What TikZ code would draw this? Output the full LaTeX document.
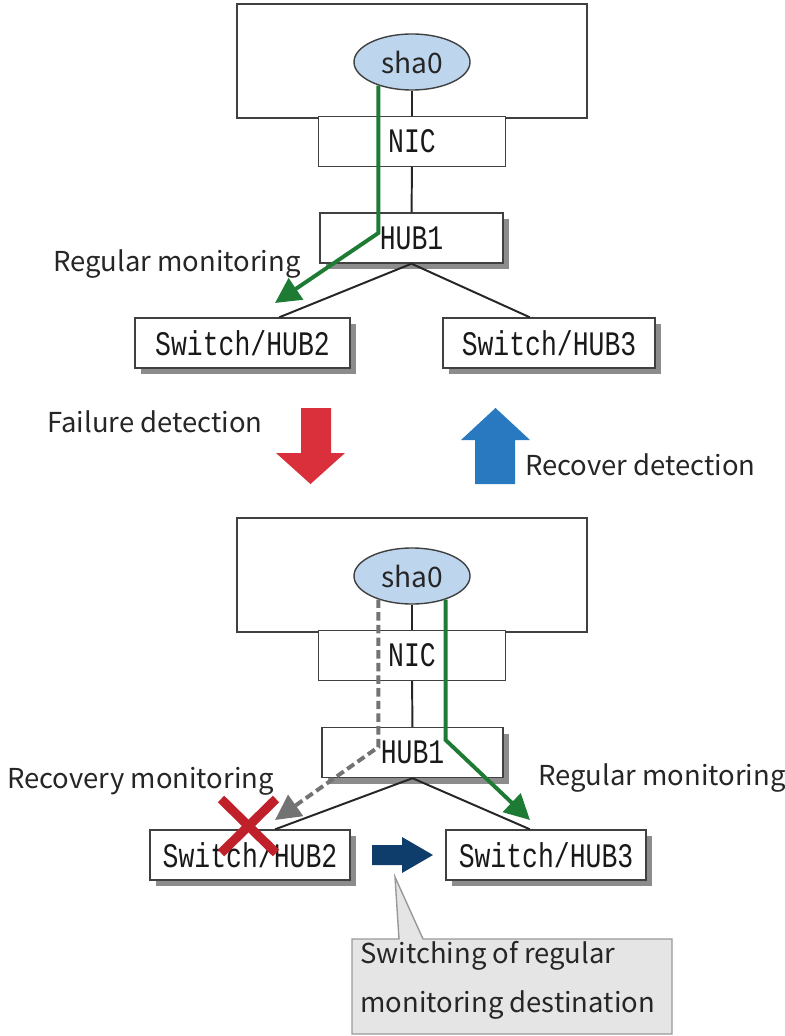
\documentclass[tikz,border=0pt]{standalone}
\usepackage{fontspec}
\setmainfont{Noto Sans CJK JP}
\newfontfamily\monofont{Liberation Mono}
\usetikzlibrary{shapes.geometric,shadows,arrows.meta,calc}

\definecolor{shablue}{HTML}{BDD6EE}
\definecolor{monigreen}{HTML}{1E7B34}
\definecolor{failred}{HTML}{D9303C}
\definecolor{recblue}{HTML}{2879C0}
\definecolor{switchnavy}{HTML}{0F3D6B}
\definecolor{crossred}{HTML}{C0202A}
\newcommand{\tall}[1]{\scalebox{1}[1.3]{#1}}

\tikzset{
  host/.style={draw=black!75,line width=1pt,minimum width=8.75cm,minimum height=2.85cm,inner sep=0pt},
  box/.style={draw=black!75,line width=1pt,fill=white,minimum height=1.25cm,inner sep=0pt,
    text=black!90,font=\monofont\fontsize{18.8}{20}\selectfont},
  shbox/.style={box,drop shadow={shadow xshift=0.15cm,shadow yshift=-0.15cm,fill=black!45,opacity=1}},
  iface/.style={ellipse,draw=black!75,line width=1pt,fill=shablue,minimum width=2.9cm,minimum height=1.4cm,
    inner sep=0pt,text=black!85,font=\fontsize{20}{25}\selectfont},
  lbl/.style={inner sep=0pt,anchor=base west,text=black!85,font=\fontsize{19.5}{25}\selectfont},
  link/.style={black!85,line width=1.4pt},
  monitor/.style={monigreen,line width=2.8pt,-{Triangle[length=18pt,width=18pt]}},
  probe/.style={black!55,line width=2.8pt,dash pattern=on 6pt off 3pt,-{Triangle[length=18pt,width=18pt]}},
}

\begin{document}
\begin{tikzpicture}[x=0.025cm,y=-0.025cm]
  \useasboundingbox (0,0) rectangle (784,1036);

  %before failure
  \node[host] (host1) at (412,61) {};
  \node[iface] (sha01) at (412,62) {sha0};
  \node[box,minimum width=4.675cm] (nic1) at (412,141.5) {\tall{NIC}};
  \node[shbox,minimum width=4.575cm] (hub11) at (411.5,238) {\tall{HUB1}};
  \node[shbox,minimum width=5.375cm] (sw21) at (242.5,343) {\tall{Switch/HUB2}};
  \node[shbox,minimum width=5.3cm] (sw31) at (549,343) {\tall{Switch/HUB3}};

  \draw[link] (sha01) -- (nic1);
  \draw[link] (nic1) -- (hub11);
  \draw[link] (hub11.south) -- ($(sw21.north west)!0.67!(sw21.north east)$);
  \draw[link] (hub11.south) -- ($(sw31.north west)!0.41!(sw31.north east)$);

  \coordinate (bend1) at (377,233);
  \coordinate (tip1) at (275,303);
  \draw[monitor] (sha01.-145) -- (sha01.-145 |- bend1) -- (tip1);
  \node[lbl] (reg1) at (53,272) {Regular monitoring};

  %detection arrows
  \fill[failred] (301,408) -- (331,408) -- (331,453) -- (345,453) -- (310.5,484) -- (276,453) -- (301,453) -- cycle;
  \node[lbl] (fail) at (47,432) {Failure detection};
  \fill[recblue] (475,484) -- (475,440) -- (461,440) -- (495.5,408) -- (530,440) -- (515,440) -- (515,484) -- cycle;
  \node[lbl] (recover) at (525,475) {Recover detection};

  %after failure
  \node[host] (host2) at (412,575) {};
  \node[iface] (sha02) at (412,576) {sha0};
  \node[box,minimum width=4.675cm] (nic2) at (412,655.5) {\tall{NIC}};
  \node[shbox,minimum width=4.525cm] (hub12) at (412.5,752.5) {\tall{HUB1}};
  \node[shbox,minimum width=5cm] (sw22) at (250,855) {\tall{Switch/HUB2}};
  \node[shbox,minimum width=5cm] (sw32) at (546,855) {\tall{Switch/HUB3}};

  \draw[link] (sha02) -- (nic2);
  \draw[link] (nic2) -- (hub12);
  \draw[link] (hub12.south) -- ($(sw22.north west)!0.625!(sw22.north east)$);
  \draw[link] (hub12.south) -- ($(sw32.north west)!0.42!(sw32.north east)$);

  \coordinate (bend2) at (377,747);
  \coordinate (tip2) at (275,820);
  \draw[probe] (sha02.-145) -- (sha02.-145 |- bend2) -- (tip2);
  \coordinate (bend3) at (446,740);
  \coordinate (tip3) at (530,820);
  \draw[monitor] (sha02.-35) -- (sha02.-35 |- bend3) -- (tip3);

  \node[lbl] (recov) at (7,788) {Recovery monitoring};
  \node[lbl] (reg2) at (538,785) {Regular monitoring};

  %failed switch
  \draw[crossred,line width=6.5pt] (221,799) -- (276,853);
  \draw[crossred,line width=6.5pt] (276,799) -- (221,853);

  %switching arrow
  \fill[switchnavy] (372,845) -- (402,845) -- (402,837) -- (433,855) -- (402,873) -- (402,865) -- (372,865) -- cycle;

  %callout
  \draw[black!40,line width=1pt,fill=black!10] (352,939) -- (399,939) -- (395,877) -- (423,939)
    -- (672,939) -- (672,1034) -- (352,1034) -- cycle;
  \node[lbl] (note1) at (360,963) {Switching of regular};
  \node[lbl] (note2) at (360,1012) {monitoring destination};
\end{tikzpicture}
\end{document}
